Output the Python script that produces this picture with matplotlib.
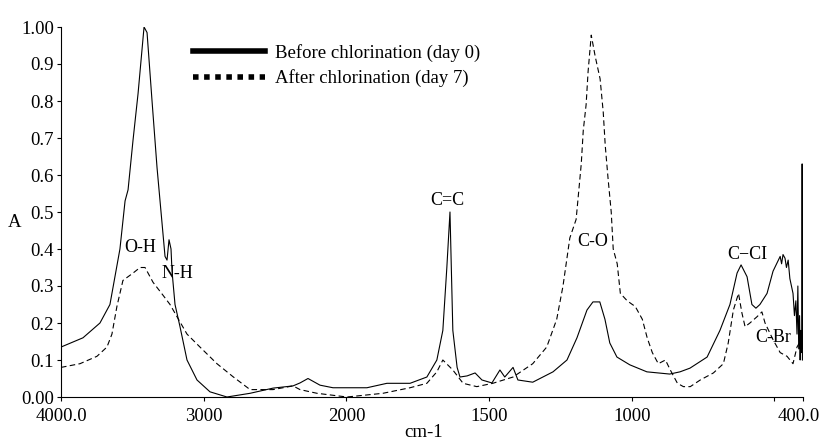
import matplotlib.pyplot as plt
import numpy as np
from matplotlib.lines import Line2D
from matplotlib.transforms import ScaledTranslation

plt.rcParams["font.family"] = ["Liberation Serif", "DejaVu Serif"]

# before chlorination (day 0)
before_wn = [4000, 3846, 3727, 3657, 3601, 3587, 3551, 3530, 3495, 3460, 3432, 3418,
             3397, 3362, 3327, 3299, 3271, 3257, 3243, 3229, 3222, 3201, 3166, 3117,
             3047, 2956, 2837, 2675, 2514, 2374, 2325, 2269, 2185, 2094, 1928, 1858,
             1777, 1718, 1683, 1662, 1648, 1637, 1627, 1612, 1602, 1577, 1549, 1525,
             1490, 1462, 1445, 1416, 1399, 1347, 1276, 1227, 1192, 1157, 1136, 1112,
             1094, 1077, 1052, 1007, 947, 867, 831, 796, 736, 691, 656, 631, 617, 596,
             579, 565, 551, 526, 505, 480, 475, 470, 463, 458, 452, 446, 435, 430, 425,
             421, 418, 415, 412, 410, 408, 406, 404, 403, 402]
before_a = [0.135, 0.16, 0.20, 0.25, 0.37, 0.40, 0.53, 0.56, 0.695, 0.82, 0.94, 1.00,
            0.985, 0.80, 0.62, 0.50, 0.38, 0.37, 0.425, 0.40, 0.34, 0.25, 0.19, 0.10,
            0.046, 0.014, 0.0, 0.01, 0.024, 0.03, 0.038, 0.05, 0.032, 0.025, 0.025, 0.037,
            0.037, 0.054, 0.10, 0.18, 0.35, 0.50, 0.18, 0.08, 0.054, 0.057, 0.065, 0.046,
            0.038, 0.073, 0.054, 0.08, 0.046, 0.04, 0.068, 0.10, 0.16, 0.235, 0.257, 0.257,
            0.21, 0.146, 0.108, 0.087, 0.068, 0.062, 0.068, 0.078, 0.108, 0.18, 0.25, 0.335,
            0.357, 0.325, 0.25, 0.24, 0.25, 0.28, 0.34, 0.38, 0.36, 0.385, 0.375, 0.35,
            0.37, 0.32, 0.28, 0.22, 0.26, 0.17, 0.30, 0.13, 0.22, 0.10, 0.18, 0.12, 0.15,
            0.63, 0.10]

# after chlorination (day 7)
after_wn = [4000, 3867, 3748, 3678, 3643, 3608, 3566, 3495, 3446, 3411, 3355, 3285,
            3236, 3187, 3117, 3026, 2907, 2795, 2675, 2514, 2374, 2325, 2206, 1998,
            1872, 1777, 1718, 1683, 1662, 1627, 1591, 1543, 1487, 1416, 1347, 1298,
            1263, 1241, 1217, 1195, 1177, 1170, 1160, 1153, 1142, 1128, 1111, 1100,
            1093, 1083, 1072, 1065, 1051, 1040, 1016, 998, 988, 963, 946, 928, 907,
            882, 865, 840, 819, 795, 760, 714, 679, 662, 644, 626, 614, 603, 586, 561,
            544, 533, 505, 480, 456, 435, 421, 410]
after_a = [0.08, 0.09, 0.11, 0.135, 0.17, 0.245, 0.315, 0.335, 0.35, 0.35, 0.31, 0.275,
           0.25, 0.217, 0.17, 0.135, 0.09, 0.055, 0.02, 0.02, 0.03, 0.02, 0.01, 0.0,
           0.01, 0.025, 0.037, 0.068, 0.10, 0.073, 0.037, 0.028, 0.037, 0.054, 0.09, 0.135,
           0.21, 0.30, 0.43, 0.48, 0.63, 0.72, 0.79, 0.88, 0.978, 0.92, 0.86, 0.77,
           0.68, 0.59, 0.50, 0.40, 0.36, 0.28, 0.26, 0.25, 0.245, 0.21, 0.16, 0.12, 0.09,
           0.10, 0.073, 0.037, 0.028, 0.028, 0.046, 0.065, 0.09, 0.146, 0.235, 0.28, 0.227,
           0.19, 0.20, 0.217, 0.23, 0.20, 0.155, 0.12, 0.11, 0.09, 0.135, 0.15]

labels = ["O-H", "N-H", "C=C", "C-O", "C\u2212CI", "C-Br"]
label_wn = [3446, 3187, 1648, 1136, 596, 505]
label_a = [0.405, 0.335, 0.532, 0.419, 0.384, 0.16]

xticks = [4000, 3000, 2000, 1500, 1000, 500, 400]
xticklabels = ["4000.0", "3000", "2000", "1500", "1000", "", "400.0"]
yticks = [0.0, 0.1, 0.2, 0.3, 0.4, 0.5, 0.6, 0.7, 0.8, 0.9, 1.0]
yticklabels = ["0.00", "0.1", "0.2", "0.3", "0.4", "0.5", "0.6", "0.7", "0.8", "0.9", "1.00"]


# spectrometer axis: scale doubles below 2000 cm-1
def forward(x):
    x = np.asarray(x, dtype=float)
    return np.where(x >= 2000, x, 2 * x - 2000)


def inverse(y):
    y = np.asarray(y, dtype=float)
    return np.where(y >= 2000, y, (y + 2000) / 2)


fs = 13.5

fig = plt.figure(figsize=(8.21, 4.44), dpi=100)
ax = fig.add_axes([61 / 821, 47 / 444, 742 / 821, 370 / 444])
ax.set_xscale("function", functions=(forward, inverse))

ax.plot(before_wn, before_a, color="black", lw=0.8)
ax.plot(after_wn, after_a, color="black", lw=0.8, linestyle=(0, (5, 3)))

for t, x, y in zip(labels, label_wn, label_a):
    ax.text(x, y, t, ha="center", va="center", fontsize=13)

ax.set_xlim(4000, 400)
ax.set_ylim(0, 1.0)
ax.set_xticks(xticks)
ax.set_xticklabels(xticklabels)
ax.set_yticks(yticks)
ax.set_yticklabels(yticklabels)
ax.tick_params(labelsize=fs, length=3, width=0.8)
ax.tick_params(axis="y", pad=2)
ax.tick_params(axis="x", pad=5)
ax.spines["top"].set_visible(False)
ax.spines["right"].set_visible(False)

# keep the last tick label inside the canvas
last = ax.get_xticklabels()[-1]
last.set_transform(last.get_transform() + ScaledTranslation(-4 / 100, 0, fig.dpi_scale_trans))

handles = [Line2D([], [], color="black", lw=4),
           Line2D([], [], color="black", lw=4, linestyle=(0, (1, 1)))]
ax.legend(handles, ["Before chlorination (day 0)", "After chlorination (day 7)"],
          loc="upper left", bbox_to_anchor=(0.178, 0.955), frameon=False,
          fontsize=fs, handlelength=3.85, handletextpad=0.5, labelspacing=0.42,
          borderpad=0, borderaxespad=0)

fig.text(15 / 821, 1 - 222 / 444, "A", fontsize=fs, ha="center", va="center")
fig.text(424 / 821, 1 - 432 / 444, "cm-1", fontsize=fs, ha="center", va="center")

fig.savefig("out.png", dpi=100)
